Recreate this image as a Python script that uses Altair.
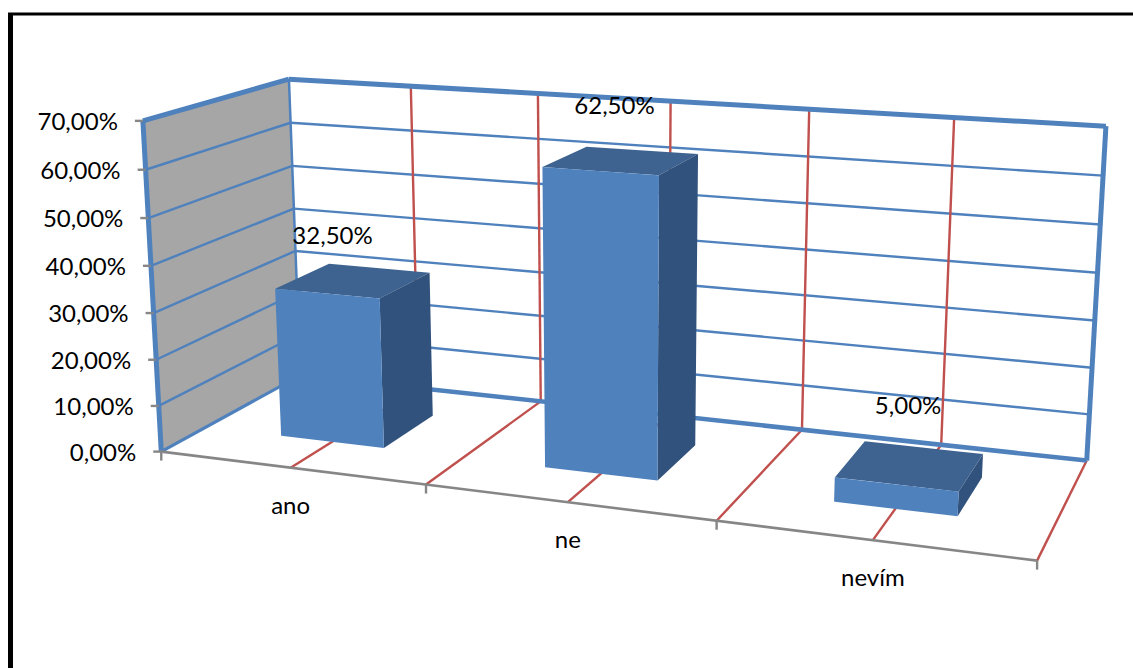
import numpy as np
import pandas as pd
import altair as alt

# Survey results
categories = ["ano", "ne", "nevím"]
shares = [32.5, 62.5, 5.0]
value_ticks = [0, 10, 20, 30, 40, 50, 60, 70]

W, H = 1133, 668
VMAX = 70.0
BLUE = "#4F81BD"
RED = "#C0504D"
AXIS_GREY = "#868686"
INK = "#000000"
FONT = "Lato"

# Camera: (category position, depth, value) -> page position, solved from the box corners.
calibration = [
    (0, 0, 0, 162, 452), (1, 0, 0, 426, 485), (2, 0, 0, 716, 520), (3, 0, 0, 1037, 561),
    (0.5, 0, 0, 291, 467), (1.5, 0, 0, 568, 503), (2.5, 0, 0, 873, 540),
    (0, 1, 0, 298, 377), (1, 1, 0, 541, 401), (2, 1, 0, 802, 429), (3, 1, 0, 1087, 460),
    (0, 0, 70, 141, 120), (0, 0, 60, 146, 170), (0, 0, 50, 148, 218), (0, 0, 40, 152, 266),
    (0, 1, 70, 289, 78), (0, 1, 60, 291, 122), (0, 1, 50, 293, 165), (0, 1, 40, 295, 208),
    (0.5, 1, 70, 411, 87), (1, 1, 70, 538, 95), (1.5, 1, 70, 670, 102), (2, 1, 70, 808, 110),
    (2.5, 1, 70, 954, 118), (3, 1, 70, 1107, 125),
]
rows, rhs = [], []
for u, d, v, px, py in calibration:
    w = v / VMAX
    rows.append([u, d, w, 1, 0, 0, 0, 0, -px * u, -px * d, -px * w])
    rhs.append(px)
    rows.append([0, 0, 0, 0, u, d, w, 1, -py * u, -py * d, -py * w])
    rhs.append(py)
sol = np.linalg.lstsq(np.array(rows, float), np.array(rhs, float), rcond=None)[0]
P = np.append(sol, 1.0).reshape(3, 4)


def project(u, d, v):
    h = P @ np.array([u, d, v / VMAX, 1.0])
    return h[0] / h[2], h[1] / h[2]


X = alt.Scale(domain=[0, W], range=[0, W], nice=False, zero=False)
Y = alt.Scale(domain=[0, H], range=[0, H], nice=False, zero=False)


def face(corners, color):
    """Fill a convex quadrilateral as an area between its upper and lower outline."""
    pts = [project(*c) for c in corners]
    n = len(pts)
    xs = sorted(p[0] for p in pts)
    out = []
    for x in xs:
        hits = []
        for i in range(n):
            (x0, y0), (x1, y1) = pts[i], pts[(i + 1) % n]
            if min(x0, x1) - 1e-9 <= x <= max(x0, x1) + 1e-9:
                if abs(x1 - x0) < 1e-9:
                    hits += [y0, y1]
                else:
                    hits.append(y0 + (y1 - y0) * (x - x0) / (x1 - x0))
        out.append({"x": x, "y": min(hits), "y2": max(hits)})
    return alt.Chart(pd.DataFrame(out)).mark_area(color=color, opacity=1, interpolate="linear").encode(
        x=alt.X("x:Q", scale=X, axis=None),
        y=alt.Y("y:Q", scale=Y, axis=None),
        y2="y2:Q",
    )


segments = []


def seg(a, b, color, width):
    (x, y), (x2, y2) = project(*a), project(*b)
    segments.append({"x": x, "y": y, "x2": x2, "y2": y2, "c": color, "w": width})


# Gridlines along the side and back walls
for t in value_ticks[1:-1]:
    seg((0, 0, t), (0, 1, t), BLUE, 2.4)
    seg((0, 1, t), (3, 1, t), BLUE, 2.4)
# Category gridlines on the back wall and the floor
for u in [0.5, 1, 1.5, 2, 2.5]:
    seg((u, 1, 0), (u, 1, VMAX), RED, 2.4)
for u in [0.5, 1, 1.5, 2, 2.5, 3]:
    seg((u, 0, 0), (u, 1, 0), RED, 2.4)
# Box outline
seg((0, 1, 0), (0, 1, VMAX), BLUE, 2.5)
seg((0, 0, 0), (0, 1, 0), BLUE, 3.2)
seg((0, 1, 0), (3, 1, 0), BLUE, 4.5)
seg((0, 0, 0), (0, 0, VMAX), BLUE, 5)
seg((0, 0, VMAX), (0, 1, VMAX), BLUE, 5)
seg((0, 1, VMAX), (3, 1, VMAX), BLUE, 5)
seg((3, 1, 0), (3, 1, VMAX), BLUE, 5)
# Category axis and its ticks
seg((0, 0, 0), (3, 0, 0), AXIS_GREY, 2.6)
for u in [0, 1, 2, 3]:
    x, y = project(u, 0, 0)
    segments.append({"x": x, "y": y, "x2": x, "y2": y + 9, "c": AXIS_GREY, "w": 2.4})
for t in value_ticks:
    x, y = project(0, 0, t)
    segments.append({"x": x - 8, "y": y, "x2": x, "y2": y, "c": AXIS_GREY, "w": 2.4})

lines = alt.Chart(pd.DataFrame(segments)).mark_rule().encode(
    x=alt.X("x:Q", scale=X, axis=None),
    y=alt.Y("y:Q", scale=Y, axis=None),
    x2="x2:Q",
    y2="y2:Q",
    color=alt.Color("c:N", scale=None),
    strokeWidth=alt.StrokeWidth("w:Q", scale=None),
)

wall = face([(0, 0, 0), (0, 1, 0), (0, 1, VMAX), (0, 0, VMAX)], "#A6A6A6")

# Columns take 40% of each slot in both width and depth
layers = [wall, lines]
U0, U1, D0, D1 = 0.3, 0.7, 0.3, 0.7
for i, val in enumerate(shares):
    a, b = i + U0, i + U1
    layers.append(face([(a, D0, val), (b, D0, val), (b, D1, val), (a, D1, val)], "#3E6390"))
    layers.append(face([(b, D0, 0), (b, D1, 0), (b, D1, val), (b, D0, val)], "#31527D"))
    layers.append(face([(a, D0, 0), (b, D0, 0), (b, D0, val), (a, D0, val)], BLUE))

# Black frame of the chart area
frame = pd.DataFrame([
    {"x": 10.5, "y": 13, "x2": 10.5, "y2": H, "w": 5},
    {"x": 8, "y": 14, "x2": W, "y2": 14, "w": 3},
])
layers.append(alt.Chart(frame).mark_rule(color="black").encode(
    x=alt.X("x:Q", scale=X, axis=None),
    y=alt.Y("y:Q", scale=Y, axis=None),
    x2="x2:Q",
    y2="y2:Q",
    strokeWidth=alt.StrokeWidth("w:Q", scale=None),
))


def fmt(v):
    return f"{v:.2f}".replace(".", ",") + "%"


def text_layer(records, align):
    return alt.Chart(pd.DataFrame(records)).mark_text(
        font=FONT, fontSize=24, color=INK, align=align, baseline="middle"
    ).encode(
        x=alt.X("x:Q", scale=X, axis=None),
        y=alt.Y("y:Q", scale=Y, axis=None),
        text="t:N",
    )


tick_text = []
for t in value_ticks:
    x, y = project(0, 0, t)
    tick_text.append({"x": x - 25, "y": y + 2, "t": fmt(float(t))})
layers.append(text_layer(tick_text, "right"))

cat_text = []
for i, name in enumerate(categories):
    x, y = project(i + 0.5, 0, 0)
    cat_text.append({"x": x, "y": y + 39, "t": name})
layers.append(text_layer(cat_text, "center"))

# Value labels sit above each column top
nudges = [(-21, -44), (-7, -53), (-2, -59)]
val_text = []
for i, val in enumerate(shares):
    x, y = project(i + 0.5, 0.5, val)
    val_text.append({"x": x + nudges[i][0], "y": y + nudges[i][1], "t": fmt(val)})
layers.append(text_layer(val_text, "center"))

chart = alt.layer(*layers).properties(
    width=W, height=H, padding=0, autosize=alt.AutoSizeParams(type="none"), background="white"
).configure_view(stroke=None)

chart.save("out.html", embed_options={"renderer": "svg", "actions": False})
